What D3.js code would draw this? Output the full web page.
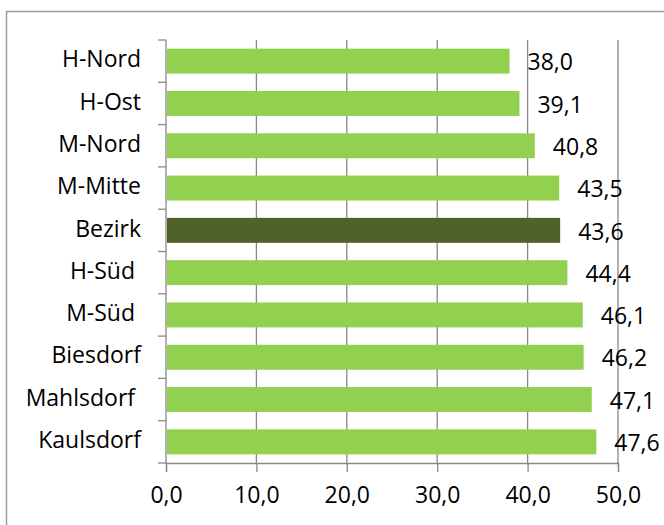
<!DOCTYPE html>
<html>
<head>
<meta charset="utf-8">
<script src="https://cdn.jsdelivr.net/npm/d3@7"></script>
<style>
  body { margin: 0; background: #fff; }
  svg { font-family: "Open Sans", sans-serif; }
  text { white-space: pre; }
</style>
</head>
<body>
<div id="vis"></div>
<script>
// data (trailing spaces as in the source labels)
const CATEGORIES = ["H-Nord", "H-Ost", "M-Nord", "M-Mitte", "Bezirk", "H-Süd ", "M-Süd ", "Biesdorf", "Mahlsdorf ", "Kaulsdorf"];
const VALUES = [38.0, 39.1, 40.8, 43.5, 43.6, 44.4, 46.1, 46.2, 47.1, 47.6];
const HIGHLIGHT = "Bezirk";
const X_TICKS = [0, 10, 20, 30, 40, 50];

const FRAME_WIDTH = 664;
const FRAME_HEIGHT = 525;
const MARGINS = {left: 166, right: 46, top: 40, bottom: 62};
const VIS_WIDTH = FRAME_WIDTH - MARGINS.left - MARGINS.right;
const VIS_HEIGHT = FRAME_HEIGHT - MARGINS.top - MARGINS.bottom;

const GRID = "#888888";
const FONT_SIZE = "23px";
const fmt = d3.formatLocale({decimal: ",", thousands: ".", grouping: [3], currency: ["", "€"]}).format(".1f");

const FRAME = d3.select("#vis")
  .append("svg")
  .attr("width", FRAME_WIDTH)
  .attr("height", FRAME_HEIGHT);

// outer chart border (only top and left visible)
FRAME.append("rect")
  .attr("x", 6.5).attr("y", 11.5)
  .attr("width", 700).attr("height", 600)
  .attr("fill", "none")
  .attr("stroke", "#9a9a9a")
  .attr("stroke-width", 1.5);

const X_SCALE = d3.scaleLinear().domain([0, 50]).range([0, VIS_WIDTH]);
const Y_SCALE = d3.scaleBand().domain(CATEGORIES).range([0, VIS_HEIGHT]).paddingInner(0.41).paddingOuter(0.205);

const G = FRAME.append("g")
  .attr("transform", "translate(" + MARGINS.left + "," + MARGINS.top + ")");

// vertical gridlines
G.selectAll(".grid")
  .data(X_TICKS.slice(1))
  .enter().append("line")
  .attr("x1", d => X_SCALE(d)).attr("x2", d => X_SCALE(d))
  .attr("y1", 0).attr("y2", VIS_HEIGHT)
  .attr("stroke", GRID).attr("stroke-width", 1.3);

// bars
G.selectAll(".bar")
  .data(CATEGORIES)
  .enter().append("rect")
  .attr("x", X_SCALE(0) + 1)
  .attr("y", d => Y_SCALE(d))
  .attr("width", (d, i) => X_SCALE(VALUES[i]) - X_SCALE(0) - 1)
  .attr("height", Y_SCALE.bandwidth())
  .attr("fill", d => d === HIGHLIGHT ? "#4f6228" : "#92d050");

// data labels
G.selectAll(".lbl")
  .data(CATEGORIES)
  .enter().append("text")
  .attr("x", (d, i) => X_SCALE(VALUES[i]) + 18)
  .attr("y", d => Y_SCALE(d) + Y_SCALE.bandwidth() / 2 + 3)
  .attr("dominant-baseline", "middle")
  .attr("font-size", FONT_SIZE)
  .attr("fill", "#000")
  .text((d, i) => fmt(VALUES[i]));

// y axis: category labels + ticks at band boundaries
const STEP = Y_SCALE.step();
const OUTER = STEP * Y_SCALE.paddingOuter();
const BOUNDS = d3.range(CATEGORIES.length + 1).map(i => Y_SCALE(CATEGORIES[0]) - OUTER + i * STEP);

G.append("line")
  .attr("x1", 0).attr("x2", 0).attr("y1", 0).attr("y2", VIS_HEIGHT)
  .attr("stroke", GRID).attr("stroke-width", 1.3);

G.selectAll(".ytick")
  .data(BOUNDS)
  .enter().append("line")
  .attr("x1", -8).attr("x2", 0)
  .attr("y1", d => d).attr("y2", d => d)
  .attr("stroke", GRID).attr("stroke-width", 1.3);

G.selectAll(".ylab")
  .data(CATEGORIES)
  .enter().append("text")
  .attr("x", -25)
  .attr("y", d => Y_SCALE(d) + Y_SCALE.bandwidth() / 2)
  .attr("text-anchor", "end")
  .attr("dominant-baseline", "middle")
  .attr("font-size", FONT_SIZE)
  .attr("fill", "#000")
  .text(d => d);

// x axis
const XAXIS = G.append("g")
  .attr("transform", "translate(0," + VIS_HEIGHT + ")")
  .call(d3.axisBottom(X_SCALE).tickValues(X_TICKS).tickFormat(fmt).tickSize(9).tickPadding(15));

XAXIS.select(".domain").attr("stroke", GRID).attr("stroke-width", 1.3);
XAXIS.selectAll(".tick line").attr("stroke", GRID).attr("stroke-width", 1.3);
XAXIS.selectAll(".tick text")
  .attr("font-family", "Open Sans, sans-serif")
  .attr("font-size", FONT_SIZE)
  .attr("fill", "#000");
</script>
</body>
</html>
